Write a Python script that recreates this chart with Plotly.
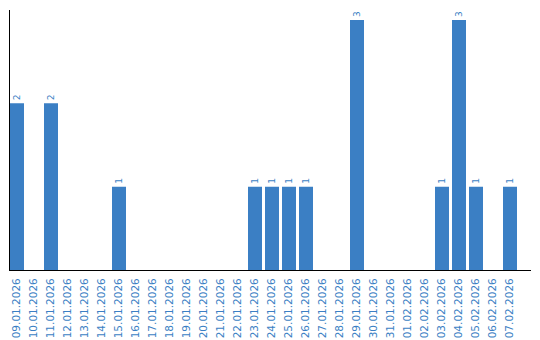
import plotly.graph_objects as go

dates = ["09.01.2026", "10.01.2026", "11.01.2026", "12.01.2026", "13.01.2026",
         "14.01.2026", "15.01.2026", "16.01.2026", "17.01.2026", "18.01.2026",
         "19.01.2026", "20.01.2026", "21.01.2026", "22.01.2026", "23.01.2026",
         "24.01.2026", "25.01.2026", "26.01.2026", "27.01.2026", "28.01.2026",
         "29.01.2026", "30.01.2026", "31.01.2026", "01.02.2026", "02.02.2026",
         "03.02.2026", "04.02.2026", "05.02.2026", "06.02.2026", "07.02.2026"]
counts = [2, 0, 2, 0, 0, 0, 1, 0, 0, 0, 0, 0, 0, 0, 1,
          1, 1, 1, 0, 0, 3, 0, 0, 0, 0, 1, 3, 1, 0, 1]

blue = "#3b7fc4"
labels = [str(v) if v else "" for v in counts]

fig = go.Figure(go.Bar(
    x=dates, y=counts, marker_color=blue, marker_line_width=0,
    text=labels, textposition="outside", textangle=-90,
    textfont=dict(family="DejaVu Sans", size=9, color=blue),
    cliponaxis=False, width=14 / 17,
))

r0 = -7 / 17
fig.update_layout(
    width=540, height=340,
    margin=dict(l=10, r=9, t=10, b=70, autoexpand=False),
    plot_bgcolor="white", paper_bgcolor="white",
    showlegend=False,
    font=dict(family="DejaVu Sans", size=10.5, color=blue),
)
fig.update_xaxes(
    type="category", range=[r0, r0 + 521 / 17], automargin=False,
    showline=True, linecolor="black", linewidth=1,
    showgrid=False, ticks="", tickangle=-90, ticklabelstandoff=3,
    tickfont=dict(family="DejaVu Sans", size=10.5, color=blue),
)
fig.update_yaxes(
    range=[0, 3.12], showline=True, linecolor="black", linewidth=1,
    showgrid=False, zeroline=False, showticklabels=False, ticks="",
    automargin=False,
)

fig.write_html("out.html")
